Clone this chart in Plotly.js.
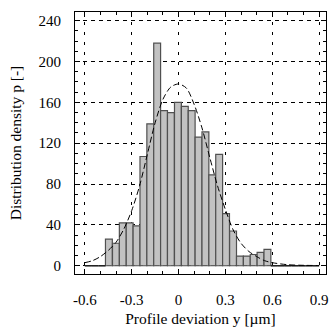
<!DOCTYPE html>
<html>
<head>
<meta charset="utf-8">
<script src="https://cdn.plot.ly/plotly-3.0.1.min.js"></script>
<style>
  html, body { margin: 0; padding: 0; background: #fff; }
  #chart { width: 330px; height: 327px; }
</style>
</head>
<body>
<div id="chart"></div>
<script>
// Histogram bin centres (profile deviation y, µm)
const binCenters = [-0.578, -0.534, -0.490, -0.446, -0.401, -0.357, -0.313, -0.269,
  -0.225, -0.181, -0.137, -0.093, -0.049, -0.004, 0.040, 0.084, 0.128, 0.172,
  0.216, 0.260, 0.304, 0.349, 0.393, 0.437, 0.481, 0.525, 0.569, 0.613, 0.657,
  0.701, 0.746, 0.790, 0.834, 0.878];
// Distribution density per bin
const binCounts = [0, 0, 0, 26, 22, 42, 42, 39, 107, 139, 218, 152, 150, 160,
  156, 152, 126, 131, 89, 109, 51, 34, 9.5, 9.5, 11, 13, 16, 0, 0, 0, 0, 0, 0, 0];
// Fitted normal curve
const curveX = [-0.6, -0.55, -0.5, -0.45, -0.4, -0.35, -0.3, -0.25, -0.2, -0.15,
  -0.1, -0.05, 0, 0.05, 0.1, 0.15, 0.2, 0.25, 0.3, 0.35, 0.4, 0.45, 0.5, 0.55,
  0.6, 0.7, 0.8, 0.9];
const curveY = [3, 5, 9, 15, 23, 36, 54, 78, 109, 140, 163, 175, 178, 174, 158,
  135, 106, 78, 55, 35, 22, 14, 9, 5, 3, 1, 0.4, 0.2];
// Tick labels
const xTickVals = [-0.6, -0.3, 0, 0.3, 0.6, 0.9];
const xTickText = ['-0.6', '-0.3', '0', '0.3', '0.6', '0.9'];
const yTickVals = [0, 40, 80, 120, 160, 200, 240];
const yTickText = ['0', '40', '80', '120', '160', '200', '240'];

const binWidth = binCenters[1] - binCenters[0];

// zero-count bins drawn as a dark line on the baseline
const zeroX = [], zeroY = [];
binCenters.forEach((c, i) => {
  if (binCounts[i] === 0) {
    zeroX.push(c - binWidth / 2, c + binWidth / 2, null);
    zeroY.push(0, 0, null);
  }
});

const FONT = 'Liberation Serif, Times New Roman, serif';

const traces = [
  {
    type: 'bar',
    x: binCenters,
    y: binCounts,
    width: binWidth,
    marker: { color: '#c2c2c2', line: { color: '#505050', width: 1.2 } },
    hoverinfo: 'skip'
  },
  {
    type: 'scatter',
    mode: 'lines',
    x: zeroX,
    y: zeroY,
    line: { color: '#222', width: 1.5 },
    hoverinfo: 'skip'
  },
  {
    type: 'scatter',
    mode: 'lines',
    x: curveX,
    y: curveY,
    line: { color: '#000', width: 1, dash: '6px,3px', shape: 'spline', smoothing: 0.8 },
    hoverinfo: 'skip'
  }
];

const layout = {
  width: 330,
  height: 327,
  margin: { l: 75, r: 4, t: 12, b: 53 },
  paper_bgcolor: '#fff',
  plot_bgcolor: '#fff',
  showlegend: false,
  bargap: 0,
  font: { family: FONT, size: 15, color: '#000' },
  xaxis: {
    range: [-0.663, 0.944],
    tickvals: xTickVals,
    ticktext: xTickText,
    ticks: 'inside',
    ticklen: 5,
    tickcolor: '#000',
    tickwidth: 1,
    minor: { dtick: 0.1, tick0: 0, ticks: 'inside', ticklen: 3, tickcolor: '#000', showgrid: false },
    showline: true,
    linecolor: '#000',
    linewidth: 1,
    mirror: 'allticks',
    showgrid: true,
    gridcolor: '#000',
    gridwidth: 1,
    griddash: '3px,7px',
    zeroline: false,
    ticklabelstandoff: 12,
    ticklabeloverflow: 'allow',
    tickfont: { family: FONT, size: 15, color: '#000' },
    title: { text: 'Profile deviation y [µm]', font: { family: FONT, size: 15.5, color: '#000' }, standoff: 6 }
  },
  yaxis: {
    range: [-8.1, 248.5],
    tickvals: yTickVals,
    ticktext: yTickText,
    ticks: 'inside',
    ticklen: 5,
    tickcolor: '#000',
    tickwidth: 1,
    minor: { dtick: 10, tick0: 0, ticks: 'inside', ticklen: 3, tickcolor: '#000', showgrid: false },
    showline: true,
    linecolor: '#000',
    linewidth: 1,
    mirror: 'allticks',
    showgrid: true,
    gridcolor: '#000',
    gridwidth: 1,
    griddash: '4px,4px',
    zeroline: false,
    ticklabelstandoff: 10,
    tickfont: { family: FONT, size: 15, color: '#000' },
    title: { text: 'Distribution density p [-]', font: { family: FONT, size: 15.5, color: '#000' }, standoff: 13 }
  }
};

Plotly.newPlot('chart', traces, layout, { displayModeBar: false, staticPlot: true });
</script>
</body>
</html>
